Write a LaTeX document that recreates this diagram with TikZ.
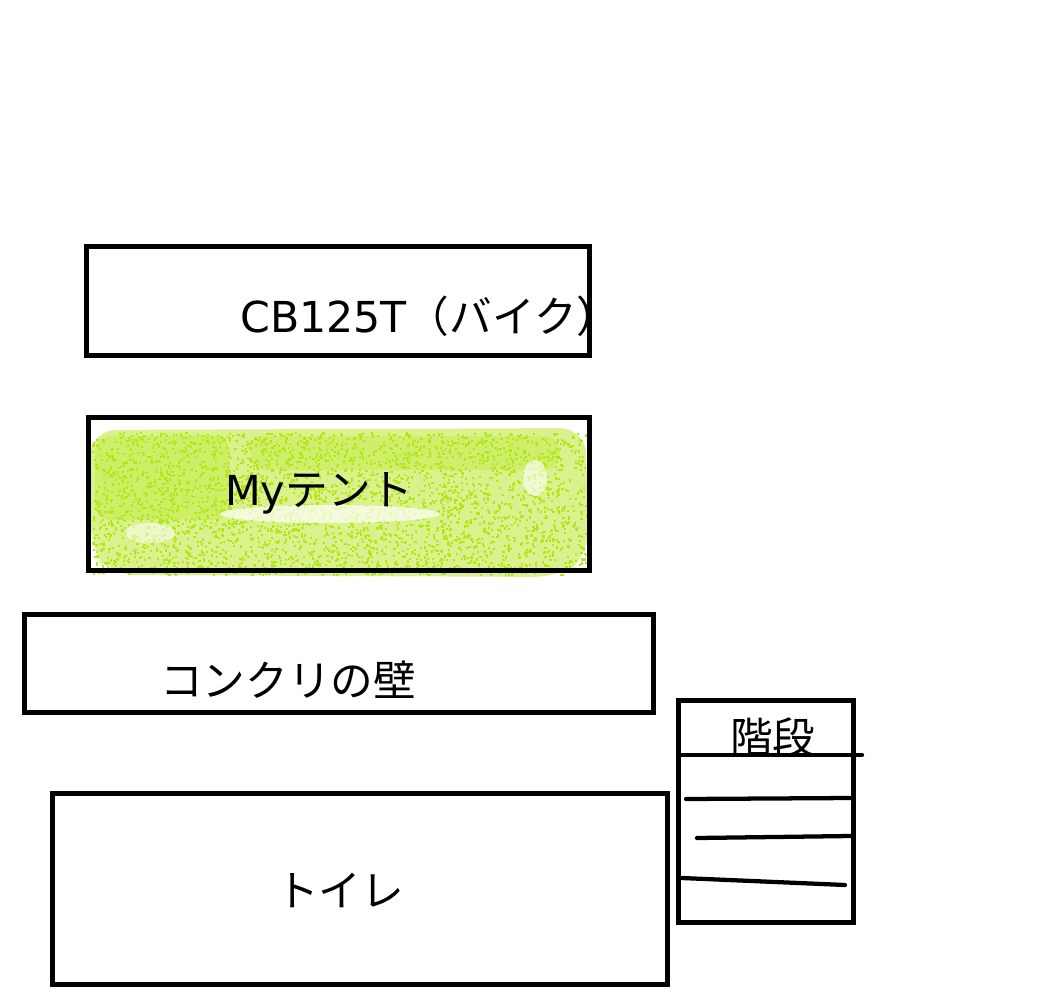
\documentclass[tikz,border=0pt]{standalone}
\usepackage{fontspec}
\setmainfont{Noto Sans CJK JP}
\newfontfamily\latinfont{DejaVu Sans}
\definecolor{spray}{HTML}{B5E61D}
\begin{document}
\begin{tikzpicture}[x=0.75pt,y=-0.75pt,
  box/.style={draw=black,line width=3.75pt,inner sep=0pt},
  lbl/.style={font=\fontsize{32}{36}\selectfont,inner sep=0pt,anchor=base west},
  stair/.style={line width=3.2pt,line cap=round}]
\useasboundingbox (0,0) rectangle (1059,1005);
% green spray in the tent box
\fill[spray,opacity=0.5,rounded corners=20pt] (90,430) -- (586,428) -- (588,560) -- (560,577) -- (110,575) -- (91,552) -- cycle;
\fill[spray,opacity=0.35,rounded corners=12pt] (95,436) rectangle (230,520);
\fill[spray,opacity=0.3,rounded corners=12pt] (250,436) rectangle (560,470);
\pgfmathsetseed{7}
\foreach \i in {1,...,3200}{
  \pgfmathsetmacro\rx{92+494*rnd}
  \pgfmathsetmacro\ry{432+142*rnd}
  \fill[spray] (\rx,\ry) rectangle ++(2.2,2.2);
}
\fill[white,opacity=0.7] (330,514) ellipse [x radius=110, y radius=9];
\fill[white,opacity=0.6] (535,478) ellipse [x radius=12, y radius=18];
\fill[white,opacity=0.5] (150,533) ellipse [x radius=25, y radius=10];
% boxes
\node[box,minimum width=376.9pt,minimum height=82.1pt] (bike) at (338.25,300.75) {};
\node[box,minimum width=375.75pt,minimum height=114.75pt] (tent) at (339,494) {};
\node[box,minimum width=471.75pt,minimum height=73.1pt] (wall) at (338.5,663.5) {};
\node[box,minimum width=461.6pt,minimum height=142.9pt] (toilet) at (360.25,888.75) {};
\node[box,minimum width=131.25pt,minimum height=166.5pt] (stairs) at (765.5,811) {};
% labels
\begin{scope}
\clip (89,248) rectangle (587,353);
\node[lbl] (tbike) at (240,332) {{\latinfont\fontsize{32}{36}\selectfont CB125T}（バイク）};
\end{scope}
\node[lbl] (ttent) at (225,505) {{\latinfont\fontsize{31}{36}\selectfont My}テント};
\node[lbl] (twall) at (160,696) {コンクリの壁};
\node[lbl] (ttoilet) at (276,906) {トイレ};
\node[lbl] (tstairs) at (730,753) {階段};
% stair steps
\coordinate (s1a) at (680,755); \coordinate (s1b) at (862,755);
\coordinate (s2a) at (686,799); \coordinate (s2b) at (851,798);
\coordinate (s3a) at (697,838); \coordinate (s3b) at (851,836);
\coordinate (s4a) at (682,878); \coordinate (s4b) at (845,885);
\draw[stair] (s1a) -- (s1b);
\draw[stair] (s2a) -- (s2b);
\draw[stair] (s3a) -- (s3b);
\draw[stair] (s4a) -- (s4b);
\end{tikzpicture}
\end{document}
